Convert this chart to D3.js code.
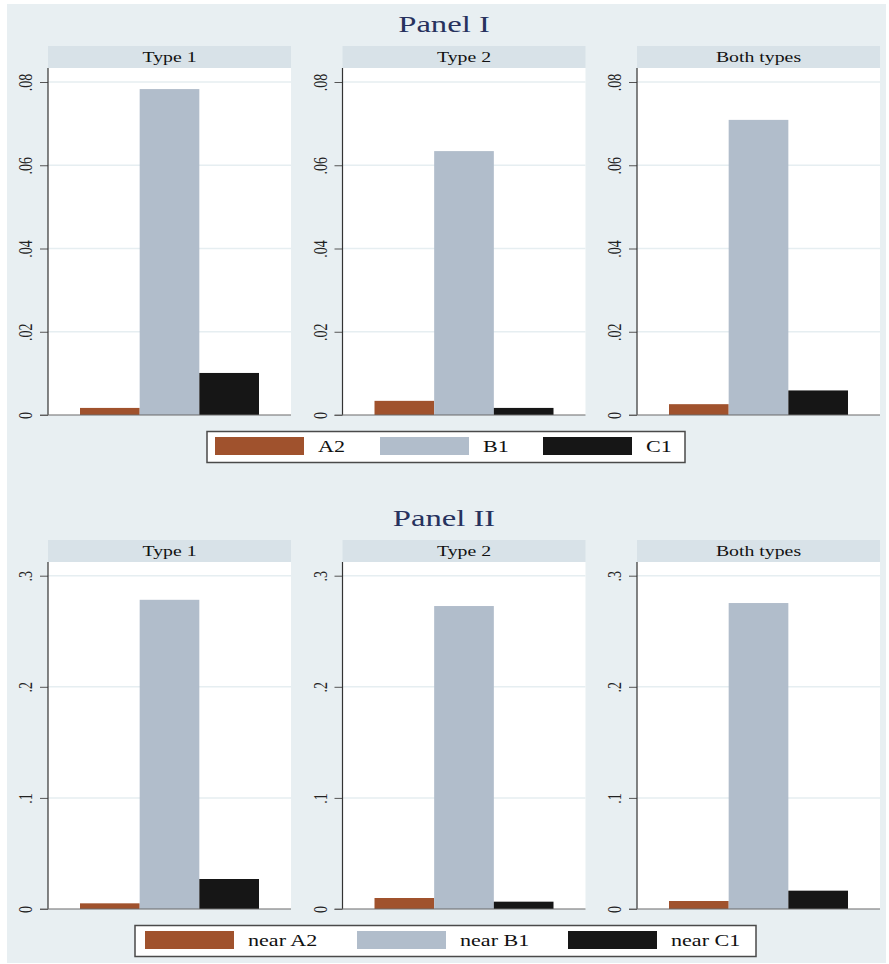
<!DOCTYPE html>
<html>
<head>
<meta charset="utf-8">
<script src="https://cdn.jsdelivr.net/npm/d3@7"></script>
<style>
  html, body { margin: 0; padding: 0; background: #ffffff; }
  svg { display: block; }
  text { font-family: "Liberation Serif", "DejaVu Serif", serif; }
</style>
</head>
<body>
<svg id="chart" width="889" height="964"></svg>
<script>
// Facets and series
const facets = ["Type 1", "Type 2", "Both types"];
const seriesI = ["A2", "B1", "C1"];
const seriesII = ["near A2", "near B1", "near C1"];

// Panel I values (one entry per facet)
const panelI_A2 = [0.0017, 0.0034, 0.0026];
const panelI_B1 = [0.0783, 0.0634, 0.0709];
const panelI_C1 = [0.0101, 0.0017, 0.0059];

// Panel II values (one entry per facet)
const panelII_A2 = [0.0051, 0.0099, 0.0072];
const panelII_B1 = [0.2783, 0.2727, 0.2754];
const panelII_C1 = [0.0270, 0.0066, 0.0165];

// Axis ticks
const ticksI = [0, 0.02, 0.04, 0.06, 0.08];
const tickLabelsI = ["0", ".02", ".04", ".06", ".08"];
const ticksII = [0, 0.1, 0.2, 0.3];
const tickLabelsII = ["0", ".1", ".2", ".3"];

const colors = ["#a0522d", "#b1bdcb", "#161616"];

// horizontal widening applied to the serif lettering
const WIDE_TITLE = 1.42, WIDE_STRIP = 1.32, WIDE_LEGEND = 1.3, WIDE_TICK = 1.4;

const svg = d3.select("#chart");

// Outer graph region
svg.append("rect")
  .attr("x", 7).attr("y", 4).attr("width", 879).attr("height", 959)
  .attr("fill", "#e8eff2");

const facetScale = d3.scaleBand().domain(facets).range([48, 880]).paddingInner(0.1749).paddingOuter(0);
const plotW = facetScale.bandwidth();

function drawPanel(cfg) {
  const g = svg.append("g");
  // title
  g.append("text")
    .attr("transform", `translate(444,${cfg.titleY}) scale(${WIDE_TITLE},1)`)
    .attr("text-anchor", "middle")
    .attr("font-size", 23)
    .attr("fill", "#27325e")
    .text(cfg.title);

  const y = d3.scaleLinear().domain([cfg.ticks[0], cfg.ticks[cfg.ticks.length - 1]])
    .range([cfg.zeroY, cfg.topTickY]);

  const xBar = d3.scaleBand().domain(cfg.series).range([32, 211]).padding(0);

  facets.forEach((f, fi) => {
    const fx = facetScale(f);
    const fg = g.append("g").attr("transform", `translate(${fx},0)`);

    // strip
    fg.append("rect")
      .attr("x", 0).attr("y", cfg.stripY)
      .attr("width", plotW).attr("height", cfg.plotTop - cfg.stripY)
      .attr("fill", "#d8e2e8");
    fg.append("text")
      .attr("transform", `translate(${plotW / 2},${cfg.plotTop - 6}) scale(${WIDE_STRIP},1)`)
      .attr("text-anchor", "middle")
      .attr("font-size", 15)
      .attr("fill", "#111")
      .text(f);

    // plot region
    fg.append("rect")
      .attr("x", 0).attr("y", cfg.plotTop)
      .attr("width", plotW).attr("height", cfg.zeroY - cfg.plotTop)
      .attr("fill", "#ffffff");

    // gridlines
    fg.selectAll("line.grid")
      .data(cfg.ticks.filter(t => t !== 0))
      .join("line")
      .attr("class", "grid")
      .attr("x1", 0).attr("x2", plotW)
      .attr("y1", d => y(d)).attr("y2", d => y(d))
      .attr("stroke", "#e6eef1").attr("stroke-width", 1.5);

    // bars
    const vals = cfg.values.map(arr => arr[fi]);
    fg.selectAll("rect.bar")
      .data(cfg.series.map((s, i) => ({ s, v: vals[i], c: colors[i] })))
      .join("rect")
      .attr("class", "bar")
      .attr("x", d => xBar(d.s))
      .attr("width", xBar.bandwidth())
      .attr("y", d => y(d.v))
      .attr("height", d => y(0) - y(d.v))
      .attr("fill", d => d.c);

    // y axis
    const axis = d3.axisLeft(y).tickValues(cfg.ticks)
      .tickFormat((d, i) => cfg.tickLabels[i])
      .tickSize(8).tickSizeOuter(0);
    const ag = fg.append("g").call(axis);
    ag.select(".domain").remove();
    ag.selectAll(".tick line").attr("stroke", "#555").attr("stroke-width", 1);
    ag.selectAll(".tick text")
      .attr("font-family", '"Liberation Serif", serif')
      .attr("font-size", 14)
      .attr("fill", "#222")
      .attr("x", null).attr("dy", null)
      .attr("text-anchor", "middle")
      .attr("transform", `translate(-16,0) rotate(-90) scale(1,${WIDE_TICK})`)
      .attr("y", 0);

    fg.append("line")
      .attr("x1", 0).attr("x2", 0)
      .attr("y1", cfg.plotTop).attr("y2", cfg.zeroY)
      .attr("stroke", "#333").attr("stroke-width", 1.2);
    fg.append("line")
      .attr("x1", -8).attr("x2", plotW)
      .attr("y1", cfg.zeroY).attr("y2", cfg.zeroY)
      .attr("stroke", "#6b6b6b").attr("stroke-width", 1.2);
  });

  // legend
  const L = cfg.legend;
  const lg = g.append("g");
  lg.append("rect")
    .attr("x", L.x).attr("y", L.y).attr("width", L.w).attr("height", 31)
    .attr("fill", "#ffffff").attr("stroke", "#4a4a4a").attr("stroke-width", 1.5);
  cfg.series.forEach((s, i) => {
    const sx = L.swatchX[i];
    lg.append("rect")
      .attr("x", sx).attr("y", L.y + 5.5).attr("width", 89).attr("height", 18)
      .attr("fill", colors[i]);
    lg.append("text")
      .attr("transform", `translate(${sx + 103},${L.y + 20.5}) scale(${WIDE_LEGEND},1)`)
      .attr("font-size", 17).attr("fill", "#111")
      .text(s);
  });
}

drawPanel({
  title: "Panel I", titleY: 31.5,
  stripY: 46, plotTop: 68, zeroY: 415, topTickY: 82,
  ticks: ticksI, tickLabels: tickLabelsI,
  series: seriesI, values: [panelI_A2, panelI_B1, panelI_C1],
  legend: { x: 207, y: 431.5, w: 478, swatchX: [215, 380, 543] }
});

drawPanel({
  title: "Panel II", titleY: 526,
  stripY: 540, plotTop: 562, zeroY: 909, topTickY: 575.7,
  ticks: ticksII, tickLabels: tickLabelsII,
  series: seriesII, values: [panelII_A2, panelII_B1, panelII_C1],
  legend: { x: 135, y: 925.5, w: 621, swatchX: [145, 357, 568] }
});
</script>
</body>
</html>
